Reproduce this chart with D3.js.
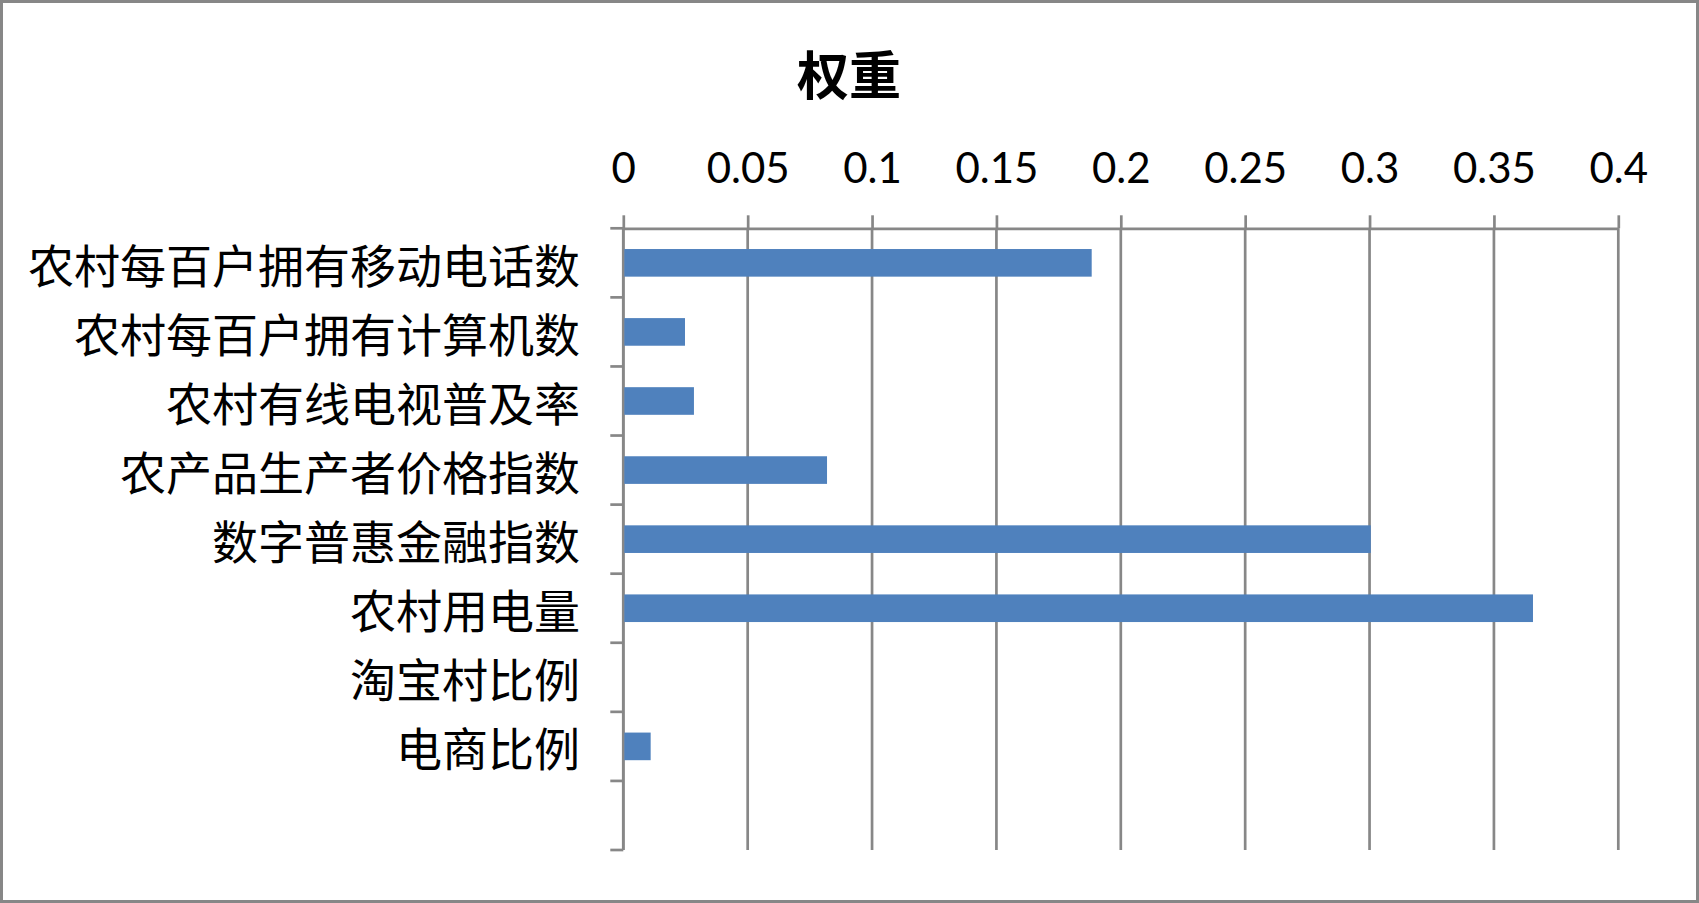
<!DOCTYPE html>
<html>
<head>
<meta charset="utf-8">
<script src="https://cdn.jsdelivr.net/npm/d3@7"></script>
<style>
  html, body { margin: 0; padding: 0; background: #fff; }
  svg { display: block; }
</style>
</head>
<body>
<svg id="chart"></svg>
<script>
// data
var categories = ["农村每百户拥有移动电话数", "农村每百户拥有计算机数", "农村有线电视普及率",
    "农产品生产者价格指数", "数字普惠金融指数", "农村用电量", "淘宝村比例", "电商比例"];
var weights = [0.1883, 0.0248, 0.0284, 0.0819, 0.3005, 0.3657, 0, 0.011];
var xTicks = [0, 0.05, 0.1, 0.15, 0.2, 0.25, 0.3, 0.35, 0.4];
var title = "权重";

var svgWidth = 1699;
var svgHeight = 903;
// plot area (window.top is reserved, so no plain "top" here)
var plotLeft = 623.3, plotRight = 1618.3, plotTop = 228.3, plotBottom = 850;
var gridColor = "#878787";

var svg = d3.select("#chart")
    .attr("width", svgWidth)
    .attr("height", svgHeight);

// outer frame
svg.append("rect")
    .attr("x", 1.5).attr("y", 1.5)
    .attr("width", svgWidth - 3).attr("height", svgHeight - 3)
    .attr("fill", "#fff")
    .attr("stroke", gridColor)
    .attr("stroke-width", 3);

svg.append("text")
    .attr("x", 849)
    .attr("y", 72)
    .attr("text-anchor", "middle")
    .attr("dominant-baseline", "central")
    .style("font-family", "'Noto Sans CJK SC', sans-serif")
    .style("font-weight", "bold")
    .style("font-size", "52px")
    .text(title);

var x = d3.scaleLinear().domain([0, 0.4]).range([plotLeft, plotRight]);
// one blank slot at the bottom, as in the original sheet
var slots = categories.concat([""]);
var y = d3.scaleBand().domain(d3.range(slots.length)).range([plotTop, plotBottom]);

// vertical gridlines
svg.append("g")
    .selectAll("line")
    .data(xTicks)
    .enter()
    .append("line")
    .attr("x1", function(d) { return x(d); })
    .attr("x2", function(d) { return x(d); })
    .attr("y1", plotTop)
    .attr("y2", plotBottom)
    .attr("stroke", gridColor)
    .attr("stroke-width", 2.7);

// top value axis
var xAxis = svg.append("g")
    .attr("transform", "translate(0," + plotTop + ")")
    .call(d3.axisTop(x).tickValues(xTicks).tickSize(13).tickSizeOuter(0).tickPadding(32)
        .tickFormat(function(d) { return String(+d.toFixed(2)); }));
xAxis.select(".domain").attr("stroke", gridColor).attr("stroke-width", 2.7);
xAxis.selectAll(".tick line").attr("stroke", gridColor).attr("stroke-width", 2.7);
xAxis.selectAll(".tick text")
    .attr("fill", "#000")
    .style("font-family", "Lato, 'Open Sans', sans-serif")
    .style("font-size", "42px");

// left category axis: ticks on band boundaries
var boundaries = d3.range(slots.length + 1).map(function(i) { return plotTop + i * y.step(); });
var yAxis = svg.append("g");
yAxis.append("line")
    .attr("x1", plotLeft).attr("x2", plotLeft)
    .attr("y1", plotTop).attr("y2", plotBottom)
    .attr("stroke", gridColor).attr("stroke-width", 2.7);
yAxis.selectAll("line.tk")
    .data(boundaries)
    .enter()
    .append("line")
    .attr("class", "tk")
    .attr("x1", plotLeft - 13).attr("x2", plotLeft)
    .attr("y1", function(d) { return d; })
    .attr("y2", function(d) { return d; })
    .attr("stroke", gridColor).attr("stroke-width", 2.7);

yAxis.selectAll("text")
    .data(categories)
    .enter()
    .append("text")
    .attr("x", 580)
    .attr("y", function(d, i) { return y(i) + y.bandwidth() / 2; })
    .attr("text-anchor", "end")
    .attr("dominant-baseline", "central")
    .style("font-family", "'Noto Sans CJK SC', sans-serif")
    .style("font-size", "46px")
    .attr("fill", "#000")
    .text(function(d) { return d; });

// bars
var barH = y.bandwidth() * 0.4;
svg.append("g")
    .selectAll("rect")
    .data(weights)
    .enter()
    .append("rect")
    .attr("x", x(0) + 1)
    .attr("y", function(d, i) { return y(i) + (y.bandwidth() - barH) / 2; })
    .attr("width", function(d) { return Math.max(0, x(d) - x(0) - 1); })
    .attr("height", barH)
    .attr("fill", "#4F81BD");
</script>
</body>
</html>
